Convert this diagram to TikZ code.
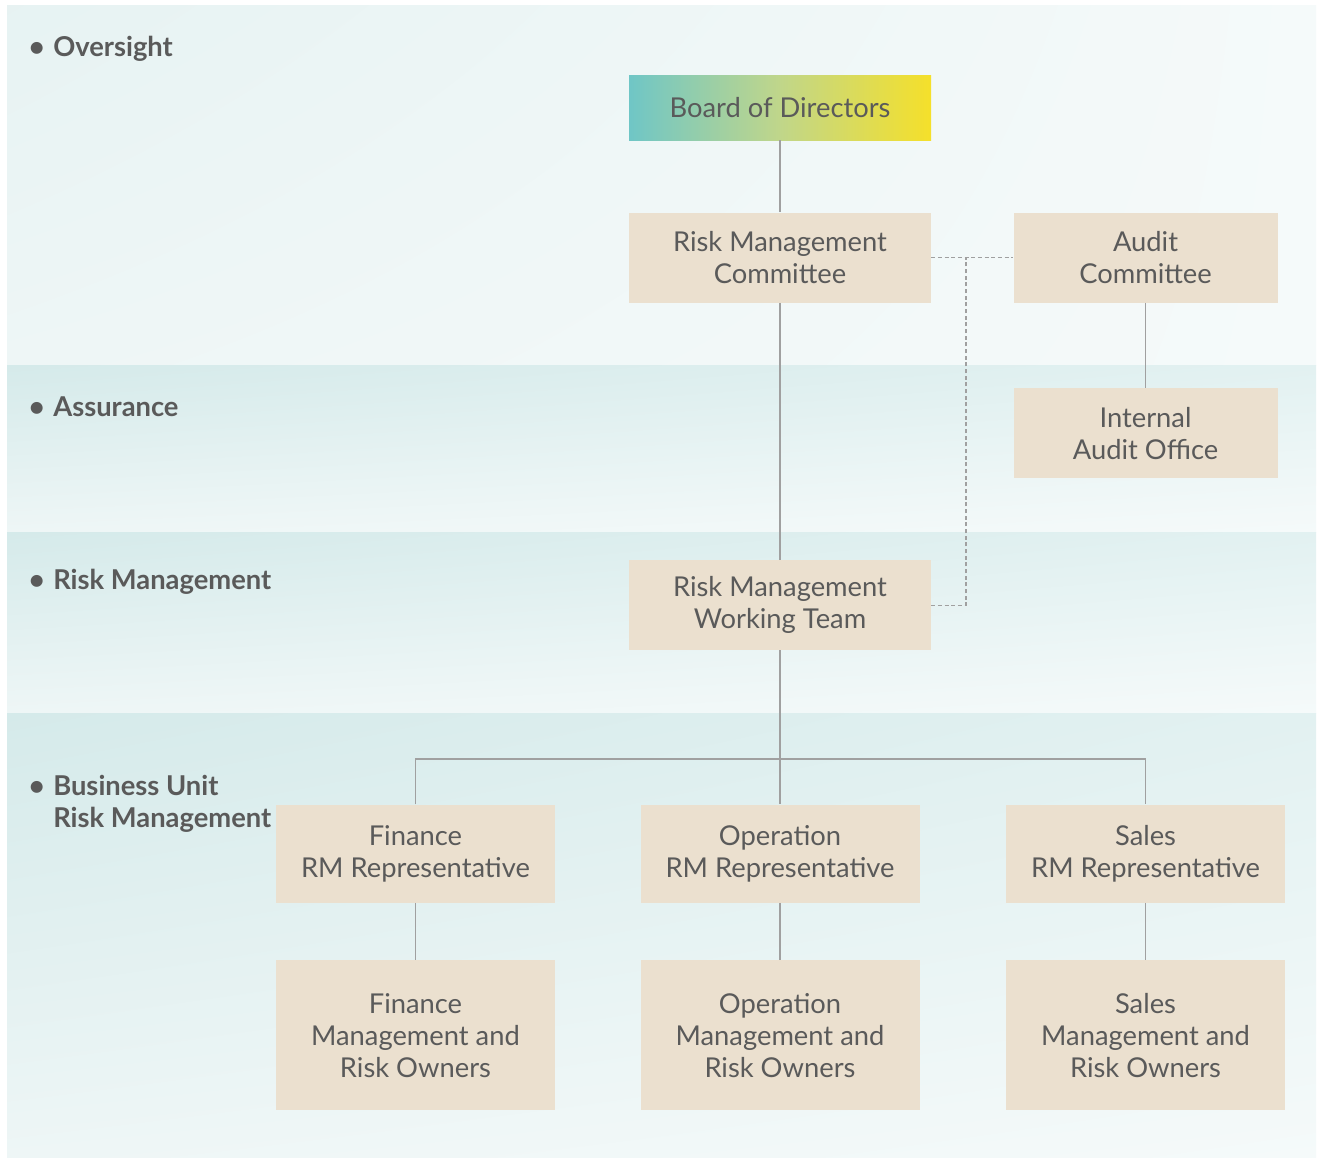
\documentclass[tikz,border=0pt]{standalone}
\usepackage{fontspec}
\setmainfont{Lato}
\usepackage{tikz}
\usetikzlibrary{positioning,calc,shadings}

\definecolor{boxfill}{HTML}{EBE0CF}
\definecolor{inkgray}{HTML}{5A5A5A}
\definecolor{linegray}{HTML}{A0A0A0}
\definecolor{bandA}{HTML}{D5EAEA}
\definecolor{bandB}{HTML}{E2F1F1}
\definecolor{bandC}{HTML}{EEF6F6}
\definecolor{bandD}{HTML}{F5FAFA}
\definecolor{boardL}{HTML}{6FC6C6}
\definecolor{boardM}{HTML}{C0D68A}
\definecolor{boardR}{HTML}{F5E02A}

\tikzset{
  unit/.style={fill=boxfill, text=inkgray, align=center, inner sep=0pt,
    font=\fontsize{20.5}{24}\selectfont},
  widebox/.style={unit, minimum width=226.5pt, minimum height=67.5pt},
  sidebox/.style={unit, minimum width=198pt, minimum height=67.5pt},
  repbox/.style={unit, minimum width=209.25pt, minimum height=73.5pt},
  ownerbox/.style={unit, minimum width=209.25pt, minimum height=112.5pt},
  tier/.style={text=inkgray, anchor=base west, inner sep=0pt, align=left,
    font=\fontsize{20.5}{24}\selectfont\bfseries},
  link/.style={draw=linegray, line width=1.1pt},
  dotlink/.style={draw=linegray, line width=0.8pt, dash pattern=on 3pt off 2pt},
}

\begin{document}
\begin{tikzpicture}[x=0.75pt, y=-0.75pt]
\useasboundingbox[fill=white] (0,0) rectangle (1317,1157);
% bands
\shade[upper left=bandC!70!bandA, upper right=bandD, lower left=bandC, lower right=bandD] (7,5) rectangle (1316,365);
\shade[upper left=bandA, upper right=bandB, lower left=bandC, lower right=bandD] (7,365) rectangle (1316,532);
\shade[upper left=bandA, upper right=bandB, lower left=bandC, lower right=bandD] (7,532) rectangle (1316,713);
\shade[upper left=bandA, upper right=bandB, lower left=bandC, lower right=bandD] (7,713) rectangle (1316,1157);

% tier labels
\node[tier] (oversight) at (53,56) {Oversight};
\node[tier] (assurance) at (53,416) {Assurance};
\node[tier] (riskmgmt) at (53,589) {Risk Management};
\node[tier] (business) at (53,827) {Business Unit\\Risk Management};
\foreach \n in {oversight,assurance,riskmgmt}
  \node[tier, anchor=base east] at ([xshift=-6pt]\n.base west) {\textbullet};
\node[tier, anchor=base east] at ([xshift=-6pt, yshift=24pt]business.base west) {\textbullet};

% boxes
\node[widebox, left color=boardL, right color=boardR, middle color=boardM,
      minimum height=48.75pt] (board) at (780,107.5) {Board of Directors};
\node[widebox, below=54pt of board] (rmc) {Risk Management\\Committee};
\node[sidebox, right=61.5pt of rmc] (audit) {Audit\\Committee};
\node[sidebox, below=63.75pt of audit] (iao) {Internal\\Audit Office};
\node[widebox, below=192.75pt of rmc] (rmwt) {Risk Management\\Working Team};
\node[repbox, below=115.5pt of rmwt] (opsrep) {Operation\\RM Representative};
\node[repbox, left=63.75pt of opsrep] (finrep) {Finance\\RM Representative};
\node[repbox, right=64.5pt of opsrep] (salesrep) {Sales\\RM Representative};
\node[ownerbox, below=42.75pt of finrep] (finown) {Finance\\Management and\\Risk Owners};
\node[ownerbox, below=42.75pt of opsrep] (opsown) {Operation\\Management and\\Risk Owners};
\node[ownerbox, below=42.75pt of salesrep] (salesown) {Sales\\Management and\\Risk Owners};

% connectors
\coordinate (bus) at (780,759);
\coordinate (tap) at (966,258);
\draw[link] (board) -- (rmc);
\draw[link] (rmc) -- (rmwt);
\draw[link] (rmwt) -- (opsrep);
\draw[link] (finrep.north) |- (bus) -| (salesrep.north);
\draw[link] (audit) -- (iao);
\draw[link] (finrep) -- (finown);
\draw[link] (opsrep) -- (opsown);
\draw[link] (salesrep) -- (salesown);
\draw[dotlink] (rmc.east) -- (audit.west);
\draw[dotlink] (rmwt.east) -| (tap);
\end{tikzpicture}
\end{document}
